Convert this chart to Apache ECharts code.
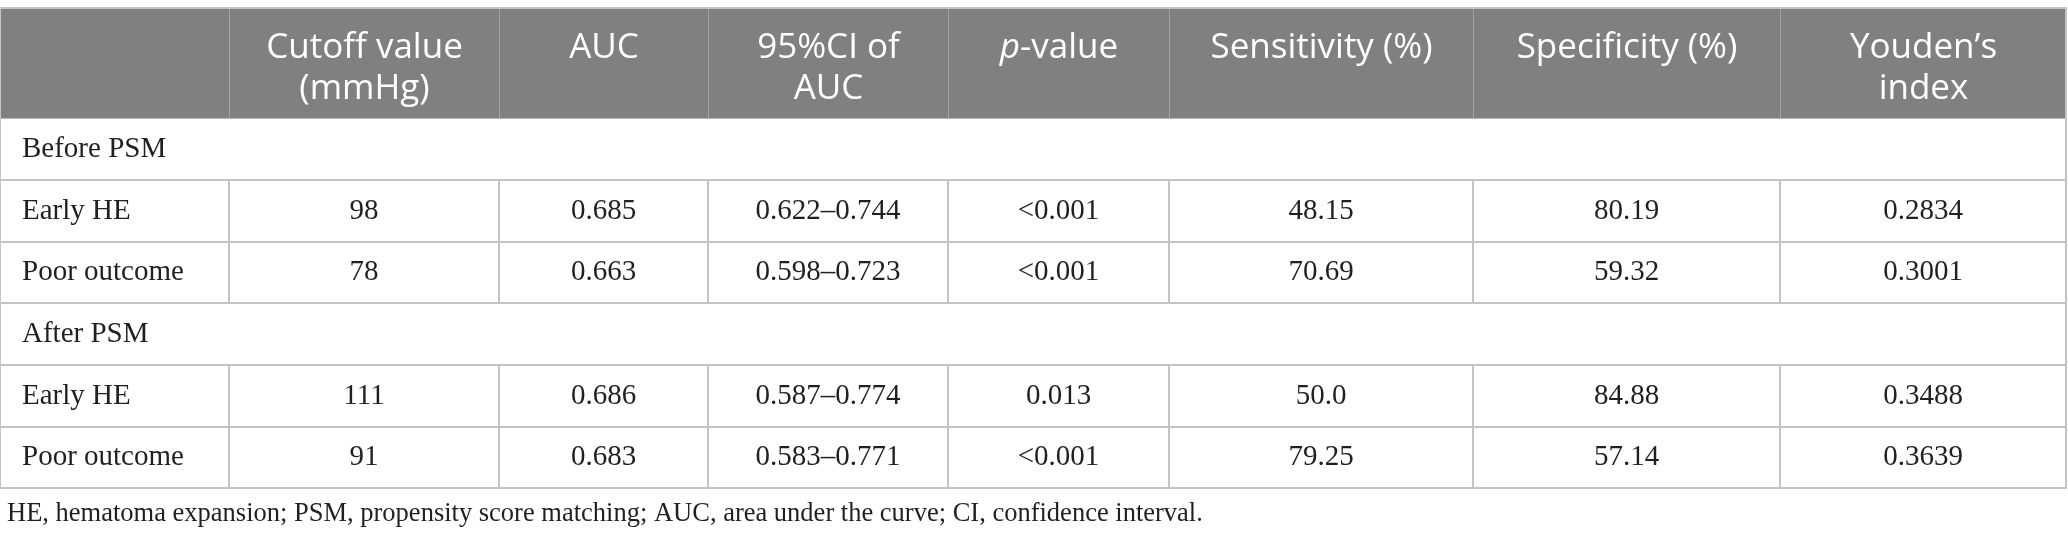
<!DOCTYPE html>
<html>
<head>
<meta charset="utf-8">
<title>ROC cutoff table</title>
<script src="https://cdn.jsdelivr.net/npm/echarts@6.0.0/dist/echarts.min.js"></script>
<style>
  html, body { margin: 0; padding: 0; background: #fff; }
  #main { width: 2068px; height: 543px; }
</style>
</head>
<body>
<div id="main"></div>
<script>
// table content
var headers = ['', 'Cutoff value\n(mmHg)', 'AUC', '95%CI of\nAUC', '{i|p}{n|-value}', 'Sensitivity (%)', 'Specificity (%)', 'Youden\u2019s\nindex'];
var groups = ['Before PSM', 'After PSM'];
var outcomes = ['Early HE', 'Poor outcome', 'Early HE', 'Poor outcome'];
var cutoff = ['98', '78', '111', '91'];
var auc = ['0.685', '0.663', '0.686', '0.683'];
var ciAuc = ['0.622\u20130.744', '0.598\u20130.723', '0.587\u20130.774', '0.583\u20130.771'];
var pValue = ['<0.001', '<0.001', '0.013', '<0.001'];
var sensitivity = ['48.15', '70.69', '50.0', '79.25'];
var specificity = ['80.19', '59.32', '84.88', '57.14'];
var youden = ['0.2834', '0.3001', '0.3488', '0.3639'];
var footnote = 'HE, hematoma expansion; PSM, propensity score matching; AUC, area under the curve; CI, confidence interval.';

var colWidths = [229, 270, 209, 240, 221, 304, 307, 286];
var serif = 'Liberation Serif';
var sans = 'Open Sans';
var textColor = '#231f20';
var lineColor = '#c4c4c4';

var chart = echarts.init(document.getElementById('main'));

var xData = headers.map(function (h, i) {
    // single line headers sit on the first line, like the two-line ones
    return { value: h.indexOf('\n') < 0 ? h + '\n ' : h, size: colWidths[i] };
});

var columns = [outcomes, cutoff, auc, ciAuc, pValue, sensitivity, specificity, youden];
var leftLabel = { position: 'insideLeft', distance: 19, align: 'left' };
var yData = [];
var body = [];
var row = 0;
groups.forEach(function (g, gi) {
    yData.push('g' + gi);
    body.push({
        coord: [[0, headers.length - 1], row],
        mergeCells: true,
        value: g,
        label: leftLabel
    });
    row++;
    for (var k = 0; k < 2; k++) {
        var idx = gi * 2 + k;
        yData.push('r' + idx);
        columns.forEach(function (col, c) {
            var cell = { coord: [c, row], value: col[idx] };
            if (c === 0) {
                cell.label = leftLabel;
            }
            body.push(cell);
        });
        row++;
    }
});

var headText = { fontFamily: sans, fontSize: 35, lineHeight: 41, color: '#fff', align: 'center' };

var option = {
    backgroundColor: '#fff',
    title: {
        text: footnote,
        left: 2,
        top: 496,
        textStyle: { fontFamily: serif, fontSize: 26.5, fontWeight: 'normal', color: textColor }
    },
    matrix: {
        left: 0,
        top: 8,
        width: 2066,
        height: 480,
        x: {
            data: xData,
            levelSize: 110,
            itemStyle: { color: '#7f807f', borderColor: '#a3a3a3', borderWidth: 1 },
            label: {
                color: '#fff',
                fontFamily: sans,
                fontSize: 35,
                lineHeight: 41,
                align: 'center',
                padding: [19, 0, 0, 0],
                rich: {
                    i: echarts.util.extend({ fontStyle: 'italic' }, headText),
                    n: headText
                }
            }
        },
        y: {
            data: yData,
            show: false
        },
        body: {
            data: body,
            itemStyle: { color: '#fff', borderColor: lineColor, borderWidth: 2 },
            label: { fontFamily: serif, fontSize: 29, color: textColor }
        },
        backgroundStyle: { color: '#fff', borderColor: lineColor, borderWidth: 2 }
    },
    series: []
};

chart.setOption(option);
</script>
</body>
</html>
